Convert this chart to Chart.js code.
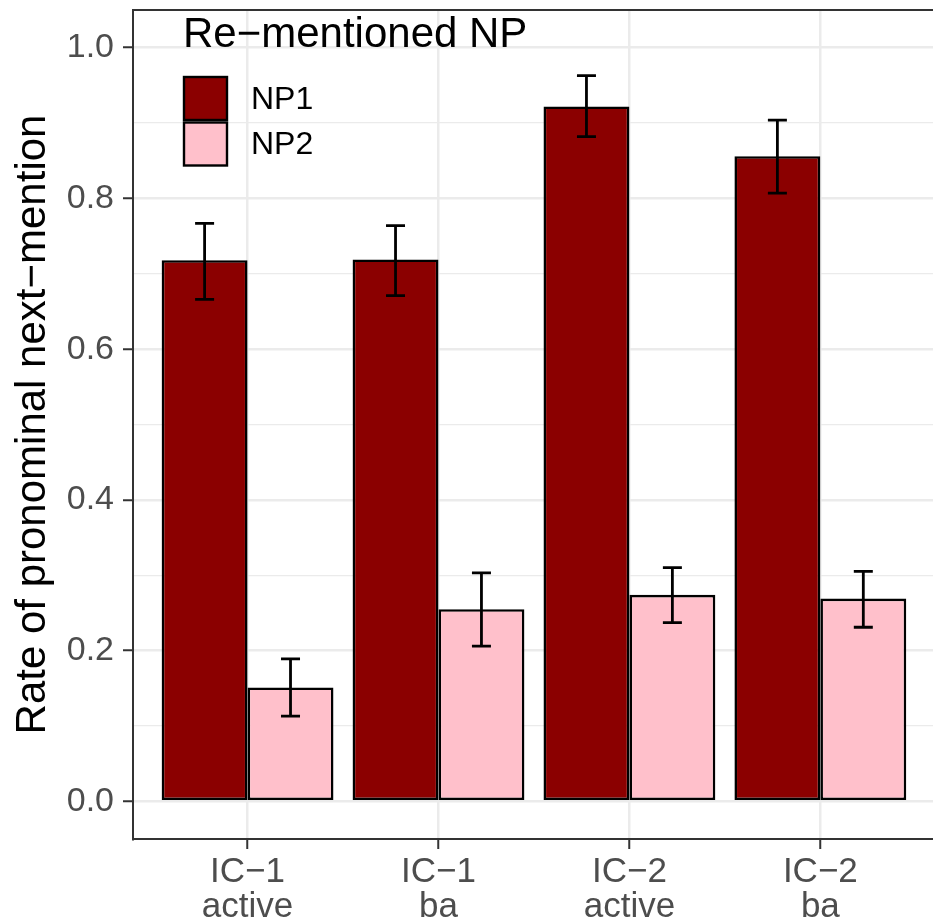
<!DOCTYPE html>
<html>
<head>
<meta charset="utf-8">
<script src="https://cdn.jsdelivr.net/npm/chart.js@4/dist/chart.umd.min.js"></script>
<style>
  html, body { margin: 0; padding: 0; background: #fff; overflow: hidden; }
  #wrap { width: 933px; height: 924px; }
</style>
</head>
<body>
<div id="wrap"><canvas id="chart" width="933" height="924"></canvas></div>
<script>
const categories = [['IC−1', 'active'], ['IC−1', 'ba'], ['IC−2', 'active'], ['IC−2', 'ba']];
const np1 = [0.718, 0.719, 0.922, 0.856];
const np1Lo = [0.666, 0.671, 0.882, 0.807];
const np1Hi = [0.767, 0.764, 0.963, 0.904];
const np2 = [0.151, 0.255, 0.274, 0.269];
const np2Lo = [0.113, 0.206, 0.237, 0.231];
const np2Hi = [0.189, 0.303, 0.310, 0.305];
const yTicks = [0, 0.1, 0.2, 0.3, 0.4, 0.5, 0.6, 0.7, 0.8, 0.9, 1.0];

const FONT = "'Liberation Sans', Arial, sans-serif";
const GRID = '#EBEBEB';
const AXIS = '#333333';

const isMajor = v => Math.round(v * 10) % 2 === 0;

const errorBars = {
  id: 'errorBars',
  afterDatasetsDraw(chart) {
    let ctx = chart.ctx;
    let y = chart.scales.y;
    let ranges = [[np1Lo, np1Hi], [np2Lo, np2Hi]];
    ctx.save();
    ctx.strokeStyle = '#000';
    ctx.lineWidth = 2.8;
    chart.data.datasets.forEach((ds, i) => {
      let meta = chart.getDatasetMeta(i);
      meta.data.forEach((bar, j) => {
        let lo = y.getPixelForValue(ranges[i][0][j]);
        let hi = y.getPixelForValue(ranges[i][1][j]);
        let half = 9.5;
        ctx.beginPath();
        ctx.moveTo(bar.x, lo); ctx.lineTo(bar.x, hi);
        ctx.moveTo(bar.x - half, lo); ctx.lineTo(bar.x + half, lo);
        ctx.moveTo(bar.x - half, hi); ctx.lineTo(bar.x + half, hi);
        ctx.stroke();
      });
    });
    ctx.restore();
  }
};

const panelTop = {
  id: 'panelTop',
  afterDraw(chart) {
    let a = chart.chartArea;
    let ctx = chart.ctx;
    ctx.save();
    ctx.strokeStyle = AXIS;
    ctx.lineWidth = 2;
    ctx.beginPath();
    ctx.moveTo(a.left - 1, a.top);
    ctx.lineTo(a.right, a.top);
    ctx.stroke();
    ctx.restore();
  }
};

const insideLegend = {
  id: 'insideLegend',
  afterDraw(chart) {
    let ctx = chart.ctx;
    ctx.save();
    ctx.fillStyle = '#000';
    ctx.textBaseline = 'alphabetic';
    ctx.textAlign = 'left';
    ctx.font = '42px ' + FONT;
    ctx.fillText('Re−mentioned NP', 183, 47);
    ctx.font = '32px ' + FONT;
    ctx.textBaseline = 'middle';
    chart.data.datasets.forEach((ds, i) => {
      let top = 77 + i * 45.5;
      ctx.fillStyle = ds.backgroundColor;
      ctx.fillRect(184, top, 43, 43);
      ctx.strokeStyle = '#000';
      ctx.lineWidth = 2.4;
      ctx.strokeRect(184, top, 43, 43);
      ctx.fillStyle = '#000';
      ctx.fillText(ds.label, 251, top + 23);
    });
    ctx.restore();
  }
};

new Chart(document.getElementById('chart'), {
  type: 'bar',
  data: {
    datasets: [
      {
        label: 'NP1',
        data: np1.map((v, i) => ({ x: i + 1, y: v })),
        backgroundColor: '#8B0000',
        borderColor: '#000',
        borderWidth: 2.6,
        borderSkipped: false,
      },
      {
        label: 'NP2',
        data: np2.map((v, i) => ({ x: i + 1, y: v })),
        backgroundColor: '#FFC0CB',
        borderColor: '#000',
        borderWidth: 2.6,
        borderSkipped: false,
      },
    ],
  },
  options: {
    responsive: false,
    animation: false,
    devicePixelRatio: 1,
    categoryPercentage: 0.9,
    barPercentage: 1.0,
    layout: { padding: { top: 10, right: 0, left: 0, bottom: 0 } },
    plugins: {
      legend: { display: false },
      tooltip: { enabled: false },
    },
    scales: {
      x: {
        type: 'linear',
        min: 0.4,
        max: 4.59,
        offset: false,
        afterBuildTicks: scale => { scale.ticks = [1, 2, 3, 4].map(v => ({ value: v })); },
        afterFit: scale => { scale.height = 85; scale.paddingLeft = 0; scale.paddingRight = 0; },
        grid: { color: GRID, lineWidth: 2.5, offset: false, tickLength: 10, tickColor: AXIS, tickWidth: 2 },
        border: { color: AXIS, width: 2 },
        ticks: {
          color: '#4D4D4D',
          font: { family: FONT, size: 35, lineHeight: 1.0 },
          padding: 6,
          maxRotation: 0,
          autoSkip: false,
          callback: v => categories[v - 1],
        },
      },
      y: {
        min: -0.05,
        max: 1.05,
        afterBuildTicks: scale => { scale.ticks = yTicks.map(v => ({ value: v })); },
        afterFit: scale => { scale.width = 133; scale.paddingTop = 0; scale.paddingBottom = 0; },
        grid: {
          color: GRID,
          lineWidth: ctx => isMajor(ctx.tick.value) ? 2.5 : 1.2,
          tickLength: 10,
          tickColor: ctx => isMajor(ctx.tick.value) ? AXIS : 'rgba(0,0,0,0)',
          tickWidth: 2,
        },
        border: { color: AXIS, width: 2 },
        ticks: {
          color: '#4D4D4D',
          font: { family: FONT, size: 34 },
          padding: 9,
          autoSkip: false,
          callback: v => isMajor(v) ? v.toFixed(1) : '',
        },
        title: {
          display: true,
          text: 'Rate of pronominal next−mention',
          color: '#000',
          font: { family: FONT, size: 42 },
          padding: { top: 8, bottom: 0 },
        },
      },
    },
  },
  plugins: [errorBars, panelTop, insideLegend],
});
</script>
</body>
</html>
